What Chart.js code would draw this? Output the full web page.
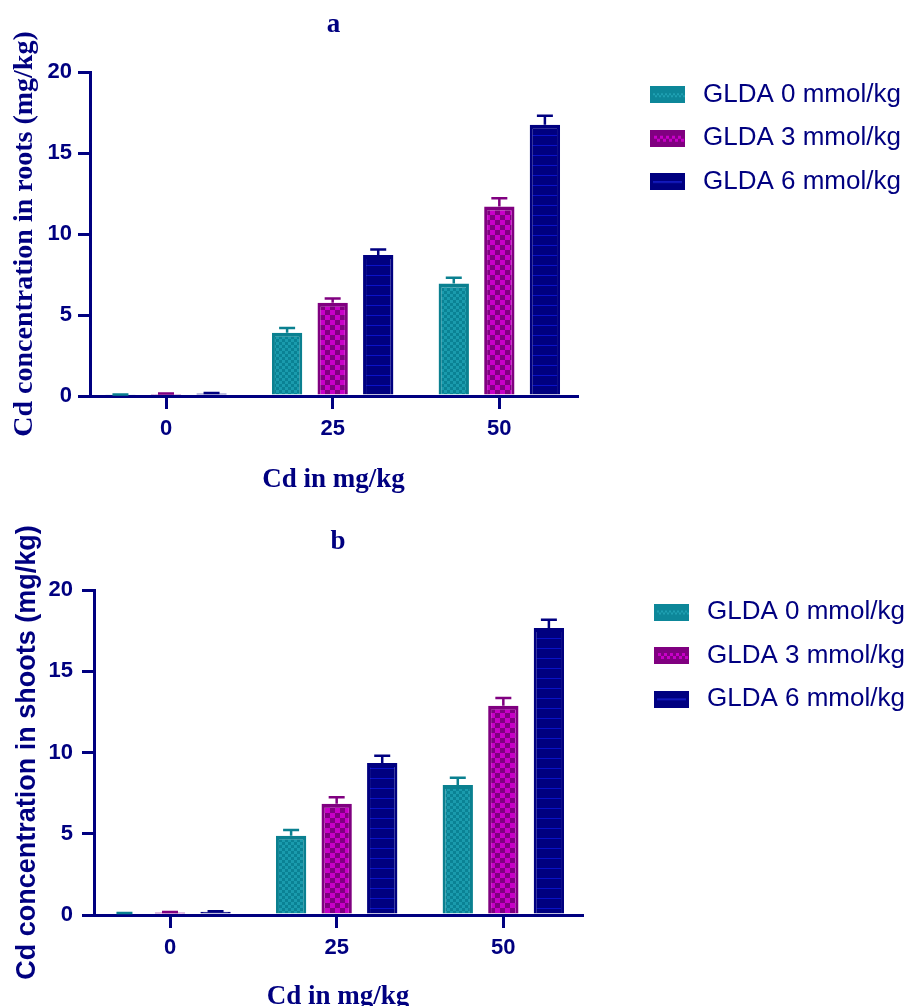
<!DOCTYPE html>
<html><head><meta charset="utf-8">
<script src="https://cdn.jsdelivr.net/npm/chart.js@4.4.1/dist/chart.umd.min.js"></script>
<style>
html,body{margin:0;padding:0;background:#fff;overflow:hidden;}
#wrap{position:relative;width:908px;height:1006px;overflow:hidden;background:#fff;}
#ca{position:absolute;left:0;top:0;}
#cb{position:absolute;left:0;top:503px;}
</style></head><body>
<div id="wrap"><canvas id="ca" width="908" height="503"></canvas><canvas id="cb" width="908" height="517"></canvas></div>
<script>
// ---- data ----
const categories = ['0', '25', '50'];
const seriesNames = ['GLDA 0 mmol/kg', 'GLDA 3 mmol/kg', 'GLDA 6 mmol/kg'];
const yTicks = [0, 5, 10, 15, 20];

const rootsGLDA0 = [0.08, 3.9, 6.95];
const rootsGLDA3 = [0.12, 5.75, 11.7];
const rootsGLDA6 = [0.15, 8.7, 16.75];
const rootsErr0 = [0.02, 0.3, 0.35];
const rootsErr3 = [0.03, 0.27, 0.5];
const rootsErr6 = [0.03, 0.35, 0.55];

const shootsGLDA0 = [0.1, 4.88, 8.0];
const shootsGLDA3 = [0.15, 6.85, 12.88];
const shootsGLDA6 = [0.2, 9.35, 17.66];
const shootsErr0 = [0.02, 0.35, 0.45];
const shootsErr3 = [0.03, 0.39, 0.47];
const shootsErr6 = [0.03, 0.45, 0.51];

// ---- styles ----
const NAVY = '#000080';
const SANS = "'Liberation Sans', Arial, sans-serif";
const SERIF = "'Liberation Serif', 'Times New Roman', serif";

function tile(w, h, draw) {
  const c = document.createElement('canvas'); c.width = w; c.height = h;
  draw(c.getContext('2d'));
  return c;
}
const helperCtx = document.createElement('canvas').getContext('2d');
const tealTile = tile(6, 6, g => { g.fillStyle = '#0a8294'; g.fillRect(0,0,6,6); g.fillStyle = '#1a9bad'; g.fillRect(0,0,3,3); g.fillRect(3,3,3,3); });
const magTile = tile(10, 10, g => { g.fillStyle = '#800080'; g.fillRect(0,0,10,10); g.fillStyle = '#c800c8'; g.fillRect(0,0,5,5); g.fillRect(5,5,5,5); });
const navyTile = tile(4, 10, g => { g.fillStyle = '#000080'; g.fillRect(0,0,4,10); g.fillStyle = '#0a12c8'; g.fillRect(0,5,4,1); });
const fills = [tealTile, magTile, navyTile].map(t => helperCtx.createPattern(t, 'repeat'));
const borders = ['#0a8090', '#800080', '#000080'];

function swatch(k) {
  return tile(35, 17, g => {
    if (k === 0) {
      g.fillStyle = '#0d8799'; g.fillRect(0,0,35,17);
      g.fillStyle = '#1fa0b2';
      for (let x = 3; x < 32; x += 4) { g.fillRect(x, 7, 2, 2); g.fillRect(x + 2, 9, 2, 2); }
    } else if (k === 1) {
      g.fillStyle = '#800080'; g.fillRect(0,0,35,17);
      g.fillStyle = '#c800c8';
      for (let x = 4; x < 31; x += 6) { g.fillRect(x, 6, 3, 3); g.fillRect(x + 3, 9, 3, 3); }
    } else {
      g.fillStyle = '#000080'; g.fillRect(0,0,35,17);
      g.fillStyle = '#1a22d0'; g.fillRect(3, 8, 29, 1.5);
    }
  });
}
const swatches = [0, 1, 2].map(swatch);

// ---- plugins ----
const errorBars = {
  id: 'errorBars',
  afterDatasetsDraw(chart) {
    const ctx = chart.ctx; const ys = chart.scales.y;
    chart.data.datasets.forEach((ds, di) => {
      const meta = chart.getDatasetMeta(di);
      meta.data.forEach((bar, i) => {
        const v = ds.data[i].y, e = ds.errorValues[i];
        const yv = ys.getPixelForValue(v), ye = ys.getPixelForValue(v + e);
        ctx.save();
        ctx.strokeStyle = ds.borderColor; ctx.lineWidth = 2.5;
        ctx.beginPath();
        ctx.moveTo(bar.x, yv); ctx.lineTo(bar.x, ye);
        ctx.moveTo(bar.x - 8, ye); ctx.lineTo(bar.x + 8, ye);
        ctx.stroke();
        ctx.restore();
      });
    });
  }
};

const legendPlace = {
  id: 'legendPlace',
  beforeLayout(chart) {
    const lg = chart.legend;
    if (!lg || lg._placed) return;
    const fit = lg.fit.bind(lg);
    lg.fit = function () { fit(); this.width = chart.options.plugins.legendPlace.width; };
    lg._placed = true;
  },
  afterLayout(chart) {
    const lg = chart.legend; const o = chart.options.plugins.legendPlace;
    const w = lg.right - lg.left, h = lg.bottom - lg.top;
    lg.left = o.left; lg.right = o.left + w; lg.top = o.top; lg.bottom = o.top + h;
  }
};

function buildChart(id, series, errs, p) {
  const datasets = series.map((vals, k) => ({
    label: seriesNames[k],
    data: vals.map((v, i) => ({ x: i, y: v })),
    errorValues: errs[k],
    backgroundColor: fills[k],
    borderColor: borders[k],
    borderWidth: { top: 4, left: 3, right: 3, bottom: 0 },
    borderSkipped: 'start',
    categoryPercentage: 0.82,
    barPercentage: 0.666
  }));
  return new Chart(document.getElementById(id), {
    type: 'bar',
    data: { datasets },
    options: {
      responsive: false, animation: false, events: [],
      layout: { padding: 0 },
      scales: {
        x: {
          type: 'linear', min: p.xMin, max: p.xMax, offset: false,
          afterBuildTicks: s => { s.ticks = categories.map((c, i) => ({ value: i })); },
          afterFit: s => { s.height = p.xHeight; },
          ticks: { callback: v => categories[v], font: { family: SANS, size: 22, weight: 'bold' }, color: NAVY, padding: 7, maxRotation: 0, autoSkip: false },
          grid: { display: true, drawOnChartArea: false, drawTicks: true, tickLength: 13, lineWidth: 3, color: NAVY, offset: false },
          border: { display: true, color: NAVY, width: 3 },
          title: { display: true, text: 'Cd in mg/kg', font: { family: SERIF, size: 27, weight: 'bold' }, color: NAVY, padding: { top: 0, bottom: 6.8 } }
        },
        y: {
          type: 'linear', min: 0, max: 20,
          afterBuildTicks: s => { s.ticks = yTicks.map(v => ({ value: v })); },
          afterFit: s => { s.width = p.yWidth; },
          ticks: { font: { family: SANS, size: 22, weight: 'bold' }, color: NAVY, padding: p.yTickPad },
          grid: { display: true, drawOnChartArea: false, drawTicks: true, tickLength: 12, lineWidth: 3, color: NAVY },
          border: { display: true, color: NAVY, width: 3 },
          title: { display: true, text: p.yTitle, font: p.yTitleFont, color: NAVY, padding: { top: p.yTitlePad, bottom: 0 } }
        }
      },
      plugins: {
        title: { display: true, text: p.title, fullSize: false, font: { family: SERIF, size: 27, weight: 'bold' }, color: NAVY, padding: { top: p.tPadTop, bottom: p.tPadBottom } },
        legend: {
          position: 'right', align: 'start',
          labels: {
            usePointStyle: true, pointStyleWidth: 45, padding: 17.5, color: NAVY,
            font: { family: SANS, size: 26 },
            generateLabels(chart) {
              const items = Chart.defaults.plugins.legend.labels.generateLabels(chart);
              items.forEach((it, i) => { it.pointStyle = swatches[i]; });
              return items;
            }
          }
        },
        tooltip: { enabled: false },
        legendPlace: { width: p.legendWidth, left: p.legendLeft, top: p.legendTop }
      }
    },
    plugins: [errorBars, legendPlace]
  });
}

buildChart('ca', [rootsGLDA0, rootsGLDA3, rootsGLDA6], [rootsErr0, rootsErr3, rootsErr6], {
  title: 'a', tPadTop: 9, tPadBottom: 30.6,
  xMin: -0.456, xMax: 2.466, xHeight: 107,
  yWidth: 90, yTickPad: 6,
  yTitle: 'Cd concentration in roots (mg/kg)', yTitleFont: { family: SERIF, size: 28, weight: 'bold' }, yTitlePad: 8,
  legendWidth: 331, legendLeft: 627.5, legendTop: 64.2
});
buildChart('cb', [shootsGLDA0, shootsGLDA3, shootsGLDA6], [shootsErr0, shootsErr3, shootsErr6], {
  title: 'b', tPadTop: 22.8, tPadBottom: 31.8,
  xMin: -0.456, xMax: 2.472, xHeight: 105,
  yWidth: 94, yTickPad: 9,
  yTitle: 'Cd concentration in shoots (mg/kg)', yTitleFont: { family: SANS, size: 27, weight: 'bold' }, yTitlePad: 11.8,
  legendWidth: 326, legendLeft: 631.5, legendTop: 78.5
});
</script>
</body></html>
